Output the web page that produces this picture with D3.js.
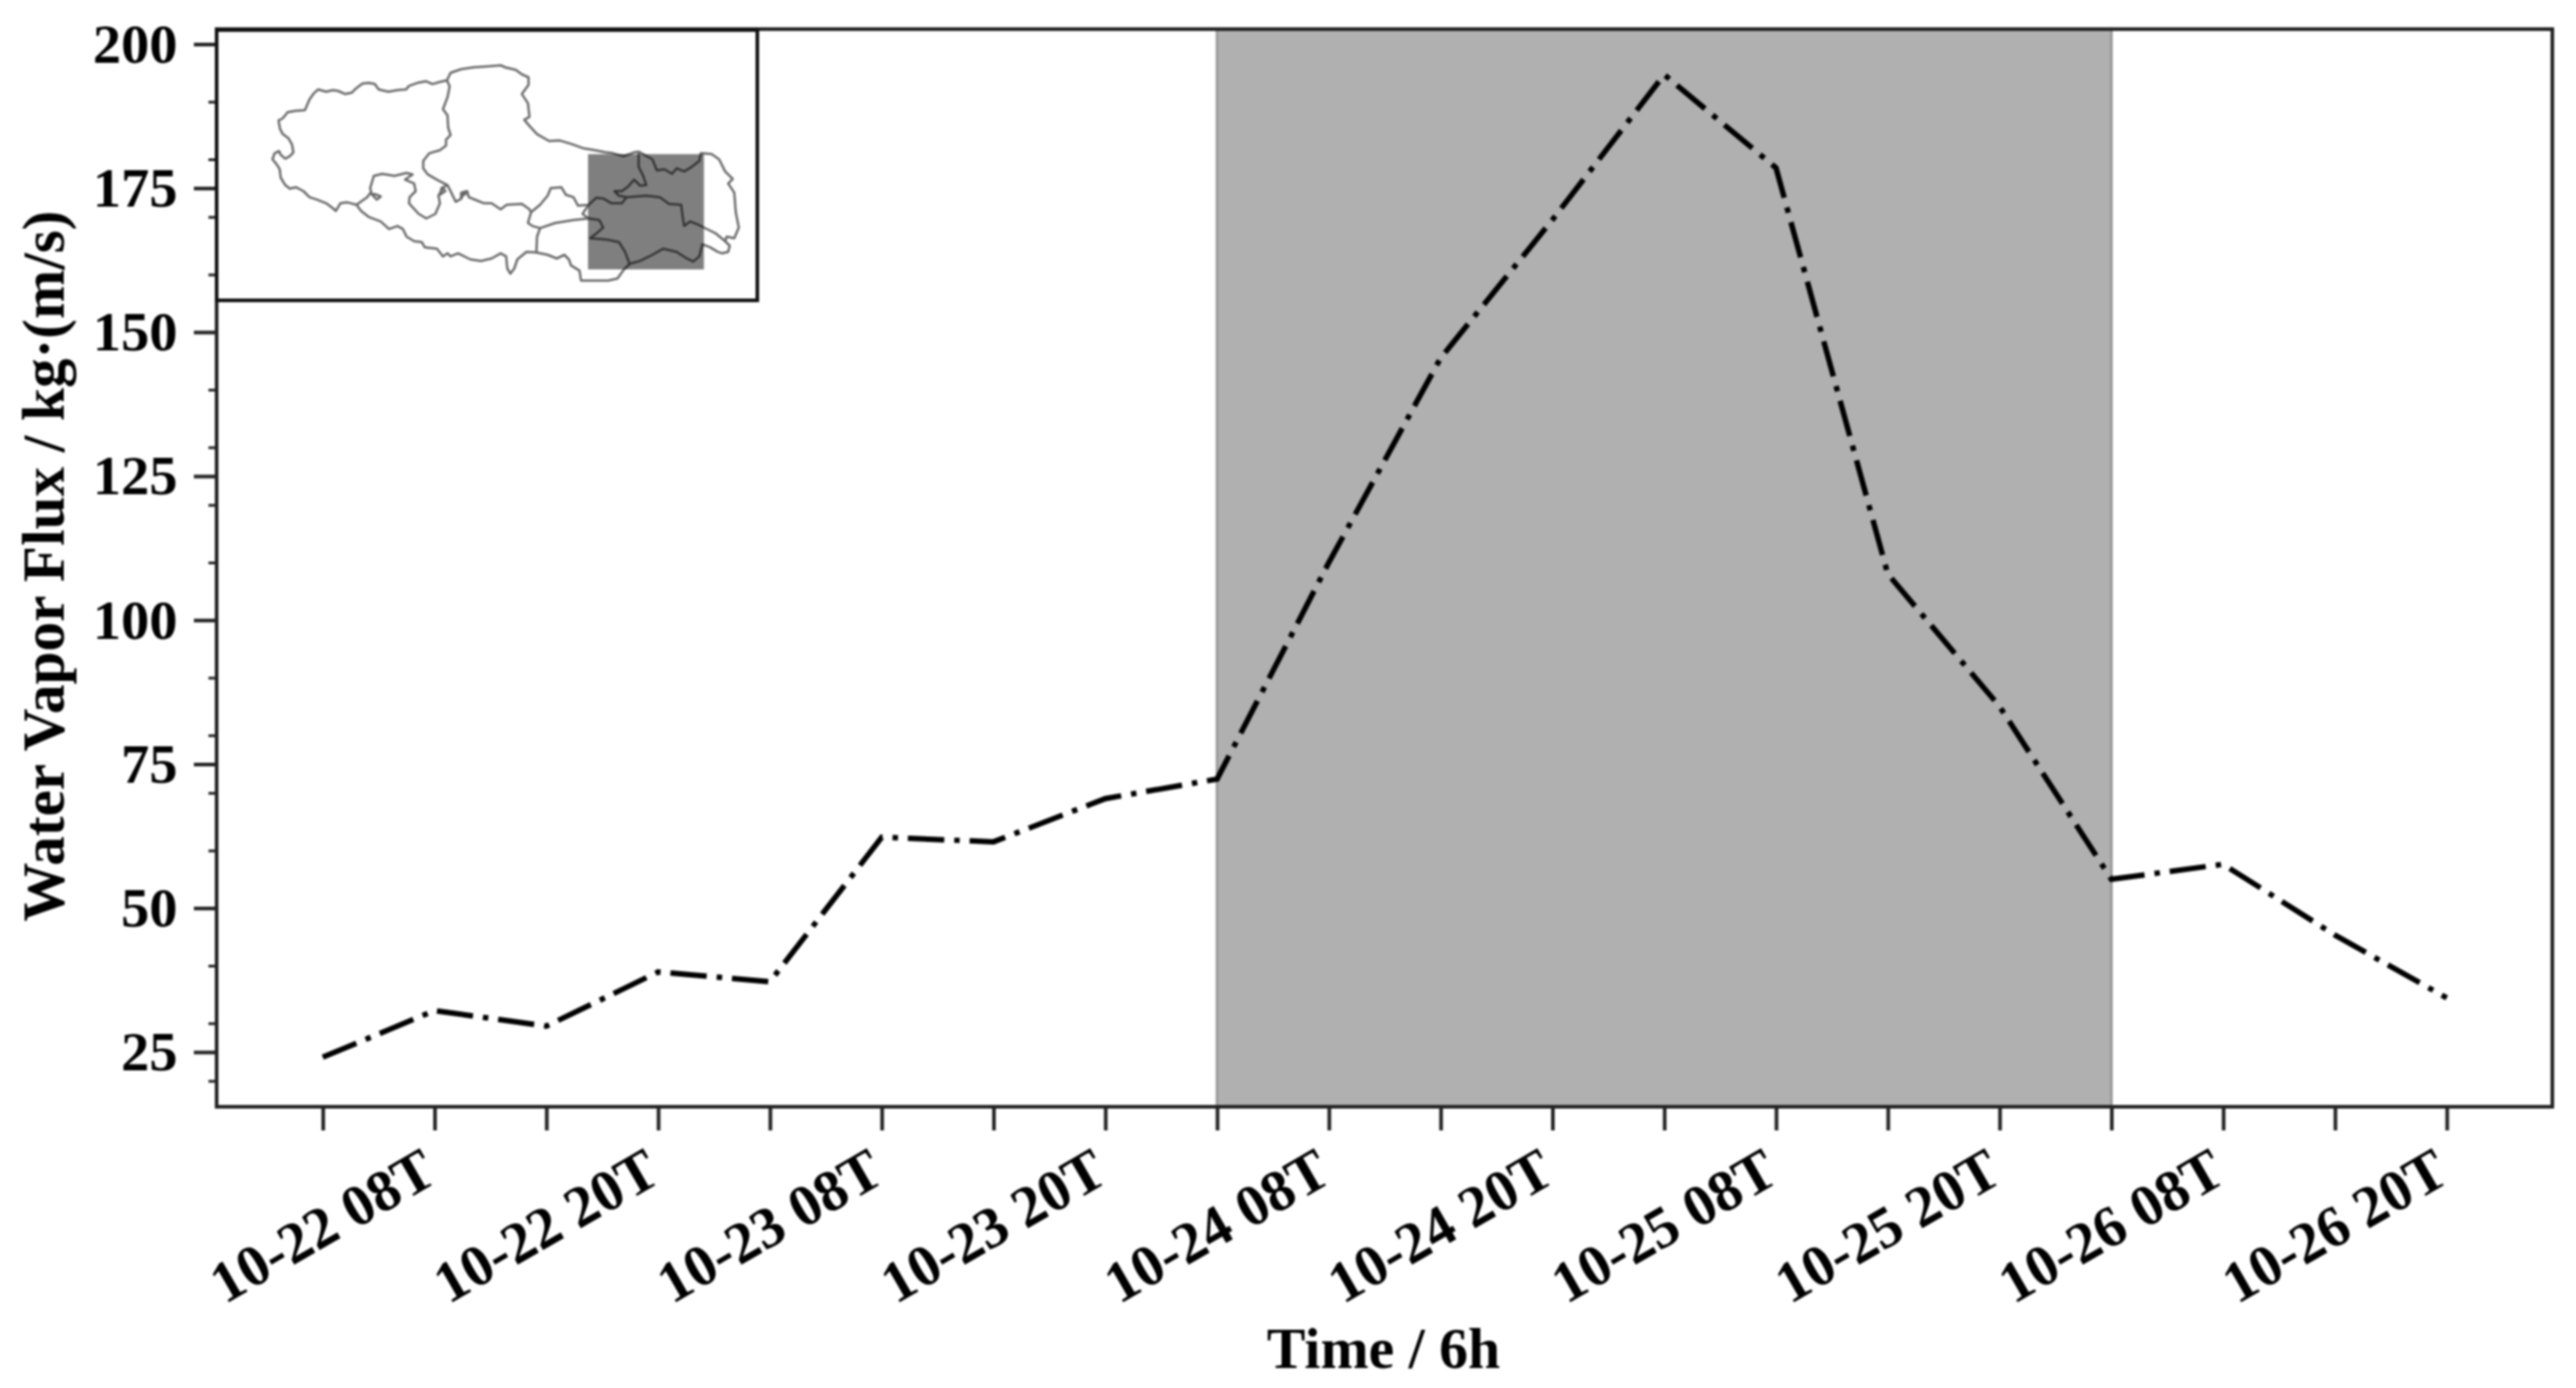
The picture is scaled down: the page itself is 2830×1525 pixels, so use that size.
<!DOCTYPE html>
<html><head><meta charset="utf-8">
<script src="https://cdn.jsdelivr.net/npm/d3@7/dist/d3.min.js"></script>
<style>
html,body{margin:0;padding:0;background:#fff;}
svg{display:block;filter:blur(1px);}
text{font-family:"Liberation Serif","Times New Roman",serif;font-weight:bold;fill:#000;}
</style></head><body>
<svg id="c" width="2830" height="1525"></svg>
<script>
// ---- data ----
const timeLabels = ["", "10-22 08T", "", "10-22 20T", "", "10-23 08T", "", "10-23 20T", "", "10-24 08T", "", "10-24 20T", "", "10-25 08T", "", "10-25 20T", "", "10-26 08T", "", "10-26 20T"];
const flux = [24.1, 32.2, 29.5, 38.9, 37.2, 62.3, 61.5, 69.0, 72.4, 110, 145.5, 169.5, 194.7, 178.5, 108, 85, 55, 57.6, 45.3, 34.4];
const yMajor = [25, 50, 75, 100, 125, 150, 175, 200];
const yMinor = [20, 30, 40, 60, 70, 80, 90, 110, 120, 130, 140, 160, 170, 180, 190];
const bandIndex = [8, 16];
const yTitle = "Water Vapor Flux / kg·(m/s)";
const xTitle = "Time / 6h";

// inset map polylines, in map units
const mapNorthWest = [[603,85],[580,90],[555,97],[535,88],[510,92],[478,103],[468,115],[440,117],[410,122],[378,115],[365,97],[345,93],[325,95],[305,110],[290,125],[268,130],[245,120],[228,117],[205,122],[178,115],[165,127],[150,148],[135,183],[105,185],[78,190],[62,210],[48,217],[53,245],[62,262],[80,275],[92,295],[97,322],[85,335],[70,343],[55,330],[50,318],[35,325],[28,345],[42,362],[52,378],[55,405],[70,430],[85,442],[105,437],[130,450],[150,470],[175,478],[205,490],[225,505],[237,515],[252,490],[275,487],[305,495]];
const mapSouth = [[305,495],[320,515],[345,535],[385,550],[412,575],[440,565],[458,575],[470,600],[495,615],[520,618],[530,635],[570,640],[590,665],[605,655],[615,665],[640,655],[680,675],[715,680],[750,672],[780,655],[798,665],[802,705],[812,722],[825,705],[835,675],[865,650],[895,652],[935,660],[965,672],[990,660],[1005,675],[1012,695],[1040,712],[1045,745],[1090,745],[1135,745],[1165,738],[1185,710],[1205,690],[1240,680],[1280,660],[1315,640],[1360,650],[1390,670],[1415,682],[1435,665],[1445,625],[1470,635],[1495,650],[1510,655],[1530,650],[1535,630],[1520,615],[1525,600],[1550,605],[1565,570],[1555,520],[1550,455],[1530,425],[1545,410],[1520,385],[1500,345],[1475,328],[1440,325],[1435,350],[1410,370],[1385,385],[1360,375],[1345,393],[1320,378],[1295,382],[1280,345],[1235,320],[1220,322],[1185,335],[1150,325],[1125,322],[1090,315],[1050,308],[1015,295],[975,283],[940,285],[900,262],[875,235],[858,215],[875,205],[870,160],[850,130],[872,100],[872,75],[850,65],[830,50],[795,42],[780,35],[745,38],[690,42],[650,48],[615,60],[603,85]];
const mapDividerNorth = [[603,85],[612,105],[605,140],[590,180],[605,200],[607,240],[615,265],[600,280],[600,300],[580,315],[545,325],[525,350],[525,375],[540,395],[575,415],[605,430],[620,460],[632,485],[650,475],[650,455],[670,450],[675,470],[700,480],[725,490],[750,490],[780,510],[800,495],[850,492],[875,510],[880,520]];
const mapMiddle = [[880,520],[910,495],[935,465],[945,440],[980,437],[995,462],[1020,470],[1035,498],[1070,495],[1095,472],[1120,475],[1145,490],[1180,490],[1195,470],[1260,465],[1305,470],[1335,492],[1375,495],[1380,535],[1385,565],[1405,550],[1430,560],[1450,570],[1490,590],[1520,615]];
const mapInlet = [[880,520],[870,555],[885,565],[910,572],[960,555],[1020,545],[1070,540],[1105,545],[1118,570],[1095,590],[1075,605],[1130,610],[1170,618],[1190,650],[1205,690]];
const mapSpur = [[1070,495],[1050,525],[1070,540]];
const mapStem = [[910,572],[900,600],[898,650]];
const mapFinger = [[1235,320],[1235,370],[1250,400],[1260,430],[1240,432],[1220,412],[1200,435],[1180,450],[1155,450],[1170,465],[1195,470]];
const mapLake = [[305,495],[340,470],[350,457],[372,462],[385,468],[372,478],[355,460],[350,440],[362,400],[390,393],[430,400],[470,390],[490,395],[465,412],[495,425],[500,450],[480,470],[478,490],[510,525],[535,540],[565,525],[580,490],[575,465],[590,440],[598,450],[580,462],[585,440],[605,430]];
const mapCurl = [[650,475],[662,452],[650,465],[668,458]];
const mapBoxX = [1068, 1450];
const mapBoxY = [328, 708];
const mapLines = [mapNorthWest, mapSouth, mapDividerNorth, mapMiddle, mapInlet, mapSpur, mapStem, mapFinger, mapLake, mapCurl];

// ---- layout ----
const L = 238, R = 2804, T = 32, B = 1216;
const svg = d3.select("#c");
const x = d3.scaleLinear().domain([0, timeLabels.length - 1]).range([354.6, 2688]);
const y = d3.scaleLinear().domain([15.5, 202.6]).range([B, T]);
const mx = d3.scaleLinear().domain([0, 1590]).range([290, 820]);
const my = d3.scaleLinear().domain([0, 780]).range([60, 320]);

// shaded window
svg.append("rect").attr("x", x(bandIndex[0])).attr("y", T)
  .attr("width", x(bandIndex[1]) - x(bandIndex[0])).attr("height", B - T).attr("fill", "#b0b0b0");
bandIndex.forEach(i => svg.append("line").attr("x1", x(i)).attr("x2", x(i)).attr("y1", T).attr("y2", B)
  .attr("stroke", "#999").attr("stroke-width", 3));

// series
svg.append("path").datum(flux)
  .attr("d", d3.line().x((d, i) => x(i)).y(d => y(d)))
  .attr("fill", "none").attr("stroke", "#000").attr("stroke-width", 6)
  .attr("stroke-dasharray", "40 11 6 10.85");

// frame
svg.append("rect").attr("x", L).attr("y", T).attr("width", R - L).attr("height", B - T)
  .attr("fill", "none").attr("stroke", "#222").attr("stroke-width", 4);

// x axis
const gx = svg.append("g").attr("transform", `translate(0,${B})`)
  .call(d3.axisBottom(x).tickValues(d3.range(timeLabels.length)).tickFormat(i => timeLabels[i]).tickSize(26).tickSizeOuter(0));
gx.select(".domain").remove();
gx.selectAll("line").attr("stroke", "#222").attr("stroke-width", 4);
gx.selectAll("text").attr("font-size", 64).attr("text-anchor", "end")
  .attr("transform", "translate(-18,42) rotate(-30)").attr("dy", "0.71em").attr("y", 0).attr("x", 0);

// y axis
const gy = svg.append("g").attr("transform", `translate(${L},0)`)
  .call(d3.axisLeft(y).tickValues(yMajor).tickSize(25).tickSizeOuter(0).tickPadding(18));
gy.select(".domain").remove();
gy.selectAll("line").attr("stroke", "#222").attr("stroke-width", 4);
gy.selectAll("text").attr("font-size", 62);
const gyMinor = svg.append("g").attr("transform", `translate(${L},0)`)
  .call(d3.axisLeft(y).tickValues(yMinor).tickSize(9).tickFormat(""));
gyMinor.select(".domain").remove();
gyMinor.selectAll("line").attr("stroke", "#222").attr("stroke-width", 3);

// titles
svg.append("text").attr("transform", "translate(70,622) rotate(-90)").attr("text-anchor", "middle")
  .attr("font-size", 65).text(yTitle);
svg.append("text").attr("x", 1520).attr("y", 1503).attr("text-anchor", "middle")
  .attr("font-size", 63.5).text(xTitle);

// inset
const inset = svg.append("g");
inset.append("rect").attr("x", 238).attr("y", 33).attr("width", 594).attr("height", 297)
  .attr("fill", "#fff").attr("stroke", "#111").attr("stroke-width", 4);
const mline = d3.line().x(d => mx(d[0])).y(d => my(d[1]));
inset.selectAll("path.m").data(mapLines).join("path").attr("class", "m")
  .attr("d", mline).attr("fill", "none").attr("stroke", "#666").attr("stroke-width", 2.5).attr("stroke-linejoin", "round");
inset.append("rect").attr("x", mx(mapBoxX[0])).attr("y", my(mapBoxY[0]))
  .attr("width", mx(mapBoxX[1]) - mx(mapBoxX[0])).attr("height", my(mapBoxY[1]) - my(mapBoxY[0]))
  .attr("fill", "#000").attr("fill-opacity", 0.5);
</script>
</body></html>
